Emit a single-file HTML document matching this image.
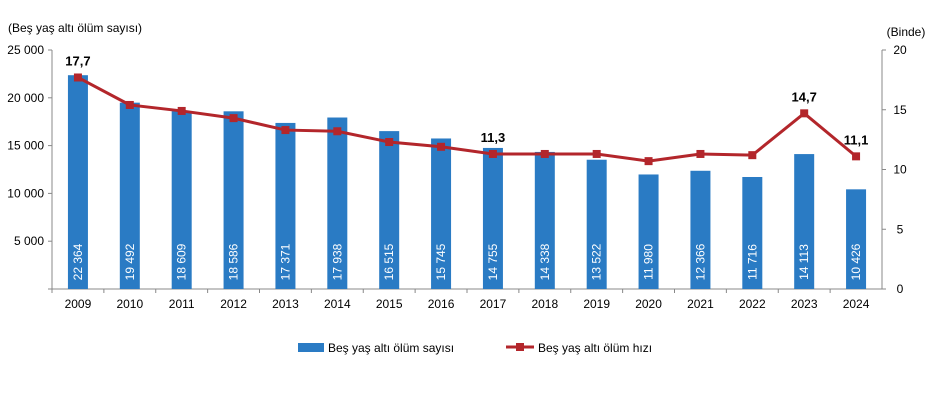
<!DOCTYPE html>
<html><head><meta charset="utf-8"><style>
body{margin:0;background:#fff;width:946px;height:406px;overflow:hidden}
svg{font-family:"Liberation Sans",Arial,sans-serif}
</style></head><body>
<svg id="chart" width="946" height="406" xmlns="http://www.w3.org/2000/svg"></svg>
<script>
const years=["2009","2010","2011","2012","2013","2014","2015","2016","2017","2018","2019","2020","2021","2022","2023","2024"];
const counts=[22364,19492,18609,18586,17371,17938,16515,15745,14755,14338,13522,11980,12366,11716,14113,10426];
const rates=[17.7,15.4,14.9,14.3,13.3,13.2,12.3,11.9,11.3,11.3,11.3,10.7,11.3,11.2,14.7,11.1];
const leftTicks=[0,5000,10000,15000,20000,25000];
const rightTicks=[0,5,10,15,20];
const labeledRates=[0,8,14,15];

const svg=document.getElementById('chart');
const NS='http://www.w3.org/2000/svg';
const X0=52,X1=882,Y0=289,Y1=50;
const bw=(X1-X0)/years.length;
const xc=i=>X0+bw*(i+0.5);
const yL=v=>Y0-(v/25000)*(Y0-Y1);
const yR=v=>Y0-(v/20)*(Y0-Y1);
function mk(tag,attrs,text){const e=document.createElementNS(NS,tag);for(const k in attrs)e.setAttribute(k,attrs[k]);if(text!==undefined)e.textContent=text;svg.appendChild(e);return e;}
const fmt=v=>v>=1000?String(Math.floor(v/1000))+' '+String(v%1000).padStart(3,'0'):String(v);

let e;
e=mk('text',{x:8,y:32,'font-size':12,fill:'#000'},'(Beş yaş altı ölüm sayısı)');

e=mk('text',{x:906,y:36,'font-size':12,fill:'#000','text-anchor':'middle'},'(Binde)');


e=mk('line',{x1:X0,y1:Y1,x2:X0,y2:Y0,stroke:'#888'});

e=mk('line',{x1:X1,y1:Y1,x2:X1,y2:Y0,stroke:'#888'});

e=mk('line',{x1:X0,y1:Y0,x2:X1,y2:Y0,stroke:'#888'});


leftTicks.forEach(v=>{
  mk('line',{x1:X0-4,y1:yL(v),x2:X0,y2:yL(v),stroke:'#888'});
  if(v>0){e=mk('text',{x:X0-8,y:yL(v)+4,'font-size':12,'text-anchor':'end',fill:'#000'},fmt(v));
  }
});
rightTicks.forEach(v=>{
  mk('line',{x1:X1,y1:yR(v),x2:X1+4,y2:yR(v),stroke:'#888'});
  e=mk('text',{x:X1+18,y:yR(v)+4,'font-size':12,'text-anchor':'middle',fill:'#000'},String(v));
  
});
years.forEach((y,i)=>{
  mk('line',{x1:X0+bw*i,y1:Y0,x2:X0+bw*i,y2:Y0+4,stroke:'#888'});
  e=mk('text',{x:xc(i),y:Y0+19,'font-size':12,'text-anchor':'middle',fill:'#000'},y);
  
});
counts.forEach((v,i)=>{
  e=mk('rect',{x:xc(i)-10,y:yL(v),width:20,height:Y0-yL(v),fill:'#2a7bc4'});
  
  e=mk('text',{x:0,y:0,'font-size':12,fill:'#fff','text-anchor':'middle',transform:`translate(${xc(i)+4},${Y0-27}) rotate(-90)`},fmt(v));
  
});
e=mk('polyline',{points:rates.map((v,i)=>xc(i)+','+yR(v)).join(' '),fill:'none',stroke:'#b3262b','stroke-width':3});

rates.forEach((v,i)=>{
  e=mk('rect',{x:xc(i)-4,y:yR(v)-4,width:8,height:8,fill:'#b3262b'});
  
});
labeledRates.forEach(i=>{
  e=mk('text',{x:xc(i),y:yR(rates[i])-12,'font-size':13,'font-weight':'bold','text-anchor':'middle',fill:'#000'},rates[i].toFixed(1).replace('.',','));
  
});
// legend
e=mk('rect',{x:298,y:343,width:26,height:9,fill:'#2a7bc4'});

e=mk('text',{x:328,y:352,'font-size':12,fill:'#000'},'Beş yaş altı ölüm sayısı');

e=mk('line',{x1:506,y1:347,x2:534,y2:347,stroke:'#b3262b','stroke-width':3});

mk('rect',{x:516,y:343,width:8,height:8,fill:'#b3262b'});
e=mk('text',{x:538,y:352,'font-size':12,fill:'#000'},'Beş yaş altı ölüm hızı');

</script>
</body></html>
